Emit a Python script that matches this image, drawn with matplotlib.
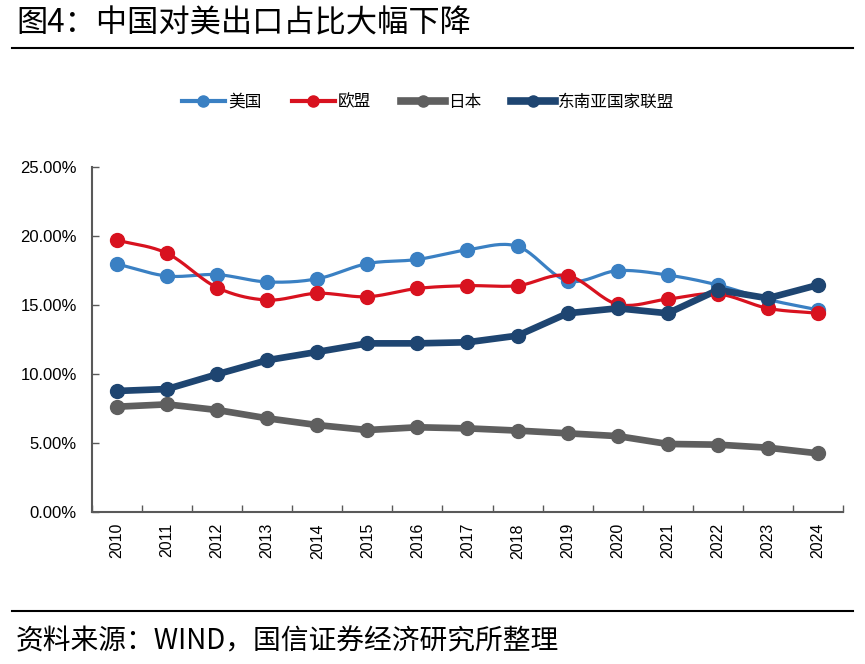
import numpy as np
import matplotlib
matplotlib.use("Agg")
import matplotlib.pyplot as plt
from matplotlib.lines import Line2D
from matplotlib.ticker import FuncFormatter

plt.rcParams['font.family'] = ['Noto Sans CJK SC', 'DejaVu Sans']

# Data (share of China's exports, %)
years = [str(y) for y in range(2010, 2025)]
usa = [17.97, 17.1, 17.2, 16.67, 16.9, 18.0, 18.3, 19.0, 19.25, 16.75, 17.49, 17.17, 16.45, 15.4, 14.65]
eu = [19.7, 18.74, 16.26, 15.36, 15.85, 15.6, 16.2, 16.4, 16.4, 17.13, 15.05, 15.43, 15.8, 14.76, 14.4]
japan = [7.63, 7.8, 7.39, 6.79, 6.3, 5.94, 6.14, 6.06, 5.9, 5.7, 5.5, 4.93, 4.88, 4.66, 4.25]
asean = [8.77, 8.91, 9.98, 11.0, 11.6, 12.22, 12.22, 12.3, 12.78, 14.4, 14.76, 14.4, 16.09, 15.49, 16.45]

series_names = ["美国", "欧盟", "日本", "东南亚国家联盟"]
colors = ["#3A80C3", "#D8121F", "#5F5F5F", "#1E4571"]
widths = [2.3, 2.3, 4.8, 4.8]
smooth = [True, True, False, False]


def catmull_rom(x, y, n=20):
    # smoothed curve through points (like Excel's smoothed line)
    x = np.asarray(x, float)
    y = np.asarray(y, float)
    px = np.concatenate([[2 * x[0] - x[1]], x, [2 * x[-1] - x[-2]]])
    py = np.concatenate([[2 * y[0] - y[1]], y, [2 * y[-1] - y[-2]]])
    xs, ys = [], []
    for i in range(1, len(px) - 2):
        t = np.linspace(0, 1, n, endpoint=False)
        for p, out in ((px, xs), (py, ys)):
            p0, p1, p2, p3 = p[i - 1], p[i], p[i + 1], p[i + 2]
            out.extend(0.5 * ((2 * p1) + (-p0 + p2) * t
                              + (2 * p0 - 5 * p1 + 4 * p2 - p3) * t ** 2
                              + (-p0 + 3 * p1 - 3 * p2 + p3) * t ** 3))
    xs.append(x[-1])
    ys.append(y[-1])
    return np.array(xs), np.array(ys)


fig = plt.figure(figsize=(8.65, 6.64), dpi=100)
W, H = 865, 664

# Title and rules
fig.text(16 / W, 1 - 23 / H, "图4：中国对美出口占比大幅下降", fontsize=22.5, va="center", ha="left",
         color="black")
fig.add_artist(Line2D([12 / W, 853 / W], [1 - 48 / H, 1 - 48 / H], color="black", lw=1.5))
fig.add_artist(Line2D([12 / W, 853 / W], [1 - 611 / H, 1 - 611 / H], color="black", lw=1.5))
fig.text(16 / W, 1 - 641 / H, "资料来源：WIND，国信证券经济研究所整理", fontsize=20, va="center",
         ha="left", color="black")

ax = fig.add_axes([92 / W, (H - 512) / H, (843 - 92) / W, (512 - 167) / H])

x = np.arange(len(years))
all_series = [usa, eu, japan, asean]
handles = []
for vals, name, c, lw, sm in zip(all_series, series_names, colors, widths, smooth):
    v = np.array(vals) / 100
    if sm:
        sx, sy = catmull_rom(x, v)
    else:
        sx, sy = x, v
    ax.plot(sx, sy, color=c, lw=lw, solid_capstyle="round", zorder=2)
    ax.plot(x, v, "o", color=c, ms=10, zorder=3)
    handles.append(Line2D([], [], color=c, lw=lw + 0.7, marker="o", ms=8, label=name))

ax.set_xlim(-0.5, len(years) - 0.5)
ax.set_ylim(0, 0.25)
ax.set_yticks(np.arange(0, 0.2501, 0.05))
ax.yaxis.set_major_formatter(FuncFormatter(lambda v, p: f"{v * 100:.2f}%"))
ax.set_xticks(x)
ax.set_xticklabels(years, rotation=90, family=["Liberation Sans"], fontsize=11.5)
ax.set_xticks(np.arange(-0.5, len(years), 1), minor=True)
ax.tick_params(axis="x", which="major", length=0, pad=8)
ax.tick_params(axis="x", which="minor", direction="in", length=5, color="#595959", width=1)
ax.tick_params(axis="y", direction="in", length=5, color="#595959", width=1, pad=11)
for lab in ax.get_yticklabels():
    lab.set_family(["Liberation Sans"])
    lab.set_fontsize(12)

for s in ["top", "right"]:
    ax.spines[s].set_visible(False)
for s in ["left", "bottom"]:
    ax.spines[s].set_color("#595959")
    ax.spines[s].set_linewidth(1.5)

fig.legend(handles=handles, loc="center", bbox_to_anchor=(428 / W, 1 - 102 / H), ncol=4,
           frameon=False, fontsize=12, handlelength=2.6, columnspacing=1.8, handletextpad=0.2)

fig.savefig("out.png", dpi=100)
